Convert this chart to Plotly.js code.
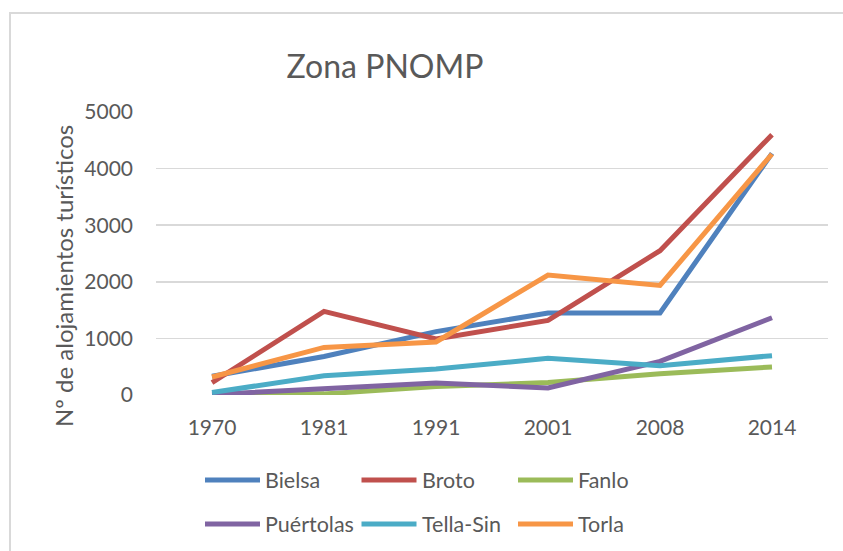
<!DOCTYPE html>
<html>
<head>
<meta charset="utf-8">
<script src="https://cdn.plot.ly/plotly-3.0.1.min.js"></script>
<style>
  html, body { margin: 0; padding: 0; background: #ffffff; }
  #wrap { position: relative; width: 843px; height: 551px; overflow: hidden; }
  #chart { width: 843px; height: 551px; }
  #frame { position: absolute; left: 9px; top: 12px; width: 900px; height: 700px;
           border-left: 2px solid #d9d9d9; border-top: 2px solid #d9d9d9; pointer-events: none; }
</style>
</head>
<body>
<div id="wrap">
  <div id="chart"></div>
  <div id="frame"></div>
</div>
<script>
// ---- Data ----
const years = ["1970", "1981", "1991", "2001", "2008", "2014"];
const seriesNames = ["Bielsa", "Broto", "Fanlo", "Puértolas", "Tella-Sin", "Torla"];
const bielsa    = [330, 680, 1120, 1450, 1450, 4270];
const broto     = [220, 1477, 990, 1318, 2550, 4600];
const fanlo     = [10, 20, 150, 220, 375, 495];
const puertolas = [10, 110, 210, 125, 595, 1365];
const tellaSin  = [45, 340, 460, 647, 517, 695];
const torla     = [318, 841, 936, 2120, 1937, 4258];
const yTicks = [0, 1000, 2000, 3000, 4000, 5000];
const chartTitle = "Zona PNOMP";
const yTitle = "Nº de alojamientos turísticos";

const seriesValues = [bielsa, broto, fanlo, puertolas, tellaSin, torla];
const colors = ["#4f81bd", "#c0504d", "#9bbb59", "#8064a2", "#4bacc6", "#f79646"];

const FONT = "Lato, 'Open Sans', sans-serif";
const TXT = "#595959";

// plot-area geometry (pixels) for legend placement
const L = 156, R = 15, T = 112, B = 156;
const W = 843 - L - R, H = 551 - T - B;
const px2x = p => (p - L) / W;
const px2y = p => (551 - B - p) / H;

const traces = seriesNames.map((name, i) => ({
  type: "scatter",
  mode: "lines",
  name: name,
  x: years,
  y: seriesValues[i],
  line: { color: colors[i], width: 5 },
  hoverinfo: "x+y+name"
}));

const shapes = [];
const annotations = [];
seriesNames.forEach((name, i) => {
  const col = i % 3, row = Math.floor(i / 3);
  const x0 = 205 + col * 156.5;
  const yy = 480 + row * 44;
  shapes.push({
    type: "line", xref: "paper", yref: "paper",
    x0: px2x(x0), x1: px2x(x0 + 55), y0: px2y(yy), y1: px2y(yy),
    line: { color: colors[i], width: 5 }
  });
  annotations.push({
    xref: "paper", yref: "paper", x: px2x(x0 + 58), y: px2y(yy),
    xanchor: "left", yanchor: "middle", showarrow: false,
    text: name, font: { family: FONT, size: 21.5, color: TXT }
  });
});

annotations.push({
  xref: "paper", yref: "paper", x: px2x(63), y: px2y(276),
  xanchor: "center", yanchor: "middle", showarrow: false, textangle: -90,
  text: yTitle, font: { family: FONT, size: 24, color: TXT }
});

const layout = {
  width: 843, height: 551,
  margin: { l: L, r: R, t: T, b: B, pad: 0 },
  paper_bgcolor: "#ffffff", plot_bgcolor: "#ffffff",
  showlegend: false,
  title: {
    text: chartTitle,
    x: 385 / 843, xanchor: "center",
    y: 1 - 67 / 551, yanchor: "middle",
    font: { family: FONT, size: 32, color: TXT }
  },
  xaxis: {
    type: "category",
    range: [-0.5, 5.5],
    showgrid: false, zeroline: false, showline: false,
    ticks: "",
    ticklabelstandoff: 18,
    tickfont: { family: FONT, size: 21, color: TXT },
    fixedrange: true
  },
  yaxis: {
    range: [0, 5000],
    tickvals: yTicks,
    ticktext: yTicks.map(String),
    showgrid: true, gridcolor: "#d9d9d9", gridwidth: 1.5,
    zeroline: false, showline: false,
    ticks: "",
    ticklabelstandoff: 22,
    tickfont: { family: FONT, size: 21, color: TXT },
    fixedrange: true
  },
  shapes: shapes,
  annotations: annotations
};

Plotly.newPlot("chart", traces, layout, { displayModeBar: false, staticPlot: true });
</script>
</body>
</html>
